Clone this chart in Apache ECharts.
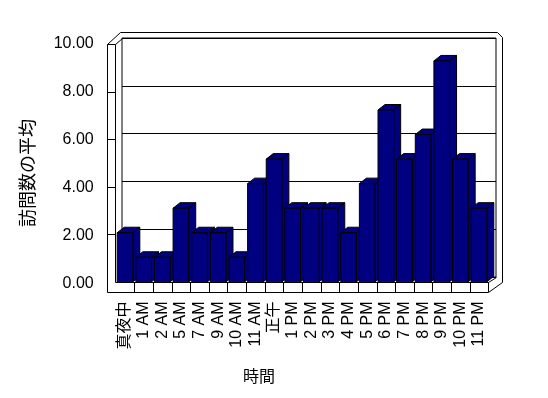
<!DOCTYPE html>
<html>
<head>
<meta charset="utf-8">
<script src="https://cdn.jsdelivr.net/npm/echarts@6/dist/echarts.min.js"></script>
<style>
  html, body { margin: 0; padding: 0; background: #fff; }
  #chart { width: 548px; height: 398px; }
</style>
</head>
<body>
<div id="chart"></div>
<script>
// 時間帯ごとの訪問数の平均 (old Excel style 3D column chart)
const hours = ['真夜中', '1 AM', '2 AM', '5 AM', '7 AM', '9 AM', '10 AM', '11 AM', '正午',
  '1 PM', '2 PM', '3 PM', '4 PM', '5 PM', '6 PM', '7 PM', '8 PM', '9 PM', '10 PM', '11 PM'];
const avgVisits = [2, 1, 1, 3, 2, 2, 1, 4, 5, 3, 3, 3, 2, 4, 7, 5, 6, 9, 5, 3];
const yMin = 0, yMax = 10, yStep = 2;

const FONT = "'Liberation Sans', 'Noto Sans CJK JP', sans-serif";
const CJK = "'Noto Sans CJK JP', sans-serif";
const depthX = 7, depthY = -5.5;   // fake 3D depth
const barRatio = 0.84;

const chart = echarts.init(document.getElementById('chart'));

// one bar = front rect + top face + side face
function renderBar(params, api) {
  const top = api.coord([api.value(0), api.value(1)]);
  const base = api.coord([api.value(0), 0]);
  const w = api.size([1, 0])[0] * barRatio;
  const x0 = top[0] - w / 2, x1 = x0 + w;
  const ty = top[1], by = base[1];
  const style = { fill: '#000080', stroke: '#000', lineWidth: 1 };
  return {
    type: 'group',
    children: [
      { type: 'polygon', shape: { points: [[x1, ty], [x1 + depthX, ty + depthY], [x1 + depthX, by + depthY], [x1, by]] }, style },
      { type: 'polygon', shape: { points: [[x0, ty], [x0 + depthX, ty + depthY], [x1 + depthX, ty + depthY], [x1, ty]] }, style },
      { type: 'rect', shape: { x: x0, y: ty, width: w, height: by - ty }, style }
    ]
  };
}

// floor strip dividers at category boundaries
function renderDivider(params, api) {
  const c = api.coord([api.value(0), 0]);
  const x = Math.round(c[0] + api.size([1, 0])[0] / 2) + 0.5;
  return { type: 'line', shape: { x1: x, y1: 282, x2: x, y2: 292 }, style: { stroke: '#000', lineWidth: 1 } };
}

const line = (x1, y1, x2, y2) => ({
  type: 'line', z: 1, silent: true,
  shape: { x1, y1, x2, y2 },
  style: { stroke: '#000', lineWidth: 1 }
});

const option = {
  backgroundColor: '#fff',
  animation: false,
  grid: [
    { left: 115.7, right: 59.7, top: 43.7, bottom: 114 },            // front labels
    { left: 115.7, right: 59.7, top: 36.4, bottom: 116.2 },          // bars
    { left: 122, right: 52, top: 38, bottom: 121, show: true,        // back wall
      borderColor: '#000', borderWidth: 1, backgroundColor: '#fff' }
  ],
  xAxis: [
    {
      type: 'category', gridIndex: 0, data: hours,
      axisLine: { show: false }, axisTick: { show: false },
      axisLabel: { interval: 0, rotate: 90, margin: 17.5, color: '#000', fontSize: 16, fontFamily: FONT }
    },
    { type: 'category', gridIndex: 1, data: hours, show: false },
    { type: 'category', gridIndex: 2, data: hours, show: false }
  ],
  yAxis: [
    {
      type: 'value', gridIndex: 0, min: yMin, max: yMax, interval: yStep,
      axisLine: { show: false }, axisTick: { show: false }, splitLine: { show: false },
      axisLabel: { margin: 22, color: '#000', fontSize: 16, fontFamily: FONT, formatter: v => v.toFixed(2) }
    },
    { type: 'value', gridIndex: 1, min: yMin, max: yMax, show: false },
    {
      type: 'value', gridIndex: 2, min: yMin, max: yMax, interval: yStep,
      axisLine: { show: false }, axisTick: { show: false }, axisLabel: { show: false },
      splitLine: { show: true, lineStyle: { color: '#000', width: 1 } }
    }
  ],
  graphic: [
    // left wall
    line(107.5, 44.5, 107.5, 292.5),
    line(115.5, 44.5, 115.5, 282.5),
    line(107.5, 44.5, 115.5, 44.5),
    line(107.5, 92.5, 115.5, 92.5),
    line(107.5, 139.5, 115.5, 139.5),
    line(107.5, 187.5, 115.5, 187.5),
    line(107.5, 234.5, 115.5, 234.5),
    line(107.5, 44.5, 120.5, 32.5),
    line(115.5, 44.5, 122.5, 38.5),
    // back wall outer edge
    line(120.5, 32.5, 497.5, 32.5),
    line(497.5, 32.5, 502.5, 37.5),
    line(502.5, 37.5, 502.5, 282.5),
    // floor
    line(115.5, 282.5, 488.5, 282.5),
    line(107.5, 292.5, 488.5, 292.5),
    line(488.5, 292.5, 502.5, 282.5),
    line(488.5, 282.5, 496.5, 277.5),
    // axis titles
    {
      type: 'text', x: 27, y: 173, rotation: Math.PI / 2,
      style: { text: '訪問数の平均', x: 0, y: 0, align: 'center', verticalAlign: 'middle',
        fill: '#000', fontSize: 18, fontFamily: CJK }
    },
    {
      type: 'text', x: 259, y: 376,
      style: { text: '時間', x: 0, y: 0, align: 'center', verticalAlign: 'middle',
        fill: '#000', fontSize: 16, fontFamily: CJK }
    }
  ],
  series: [
    {
      type: 'custom', name: 'floor', xAxisIndex: 1, yAxisIndex: 1, z: 3, silent: true,
      data: hours.map((h, i) => [i, 0]),
      renderItem: renderDivider
    },
    {
      type: 'custom', name: '訪問数の平均', xAxisIndex: 1, yAxisIndex: 1, z: 5,
      data: hours.map((h, i) => [i, avgVisits[i]]),
      encode: { x: 0, y: 1 },
      renderItem: renderBar
    }
  ]
};

chart.setOption(option);
</script>
</body>
</html>
